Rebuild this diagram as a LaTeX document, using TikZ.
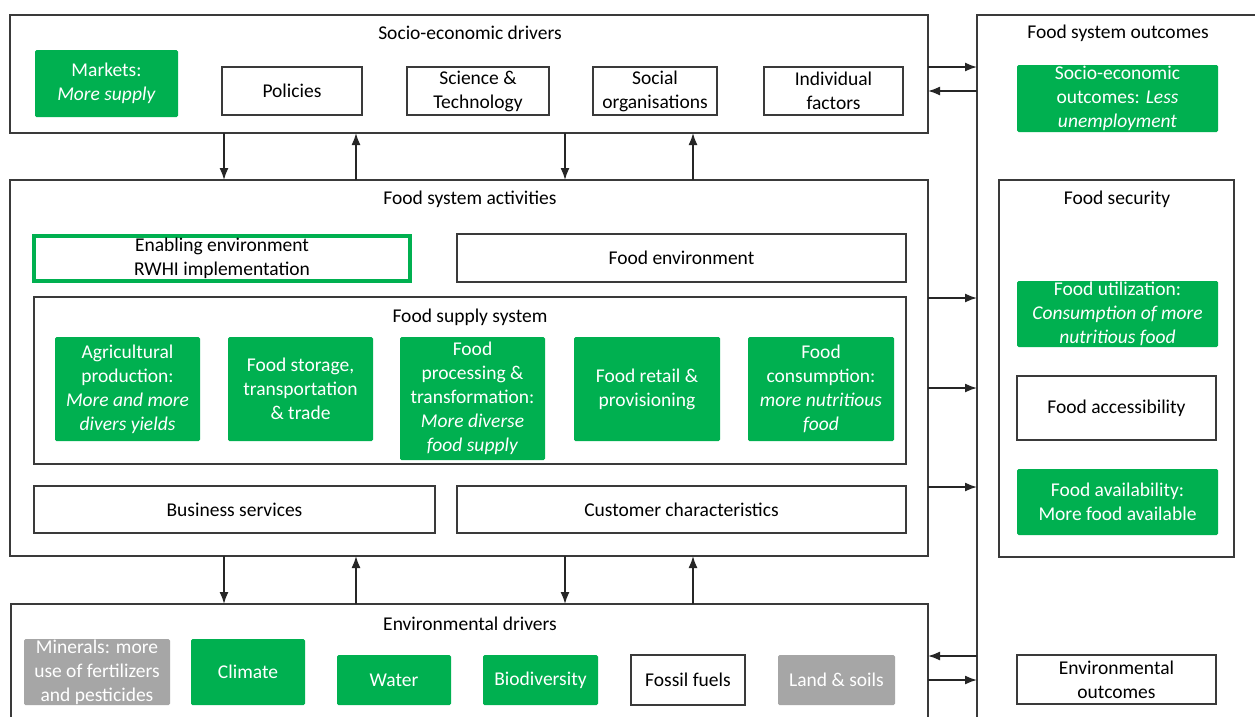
\documentclass[tikz,border=0pt]{standalone}
\usepackage{fontspec}
\setmainfont{Carlito}
\usetikzlibrary{arrows.meta}
\definecolor{fsgreen}{HTML}{00B050}
\definecolor{fsgray}{HTML}{A6A6A6}
\definecolor{fsline}{HTML}{3A3A3A}

\begin{document}
\begin{tikzpicture}[x=1pt,y=-1pt,
  every node/.style={font=\fontsize{19.5}{24}\selectfont, align=center, inner sep=0pt, outer sep=0pt},
  frame/.style={draw=fsline, line width=1.8pt},
  wbox/.style={frame, fill=white, text=black},
  gbox/.style={fill=fsgreen, text=white, rounded corners=1.5pt},
  greybox/.style={fill=fsgray, text=white, rounded corners=1.5pt},
  enabox/.style={draw=fsgreen, line width=3.5pt, fill=white, text=black},
  heading/.style={text=black},
  arr/.style={draw=black!85, line width=1.6pt, -{Latex[length=12pt,width=9pt]}},
]
\useasboundingbox (0,0) rectangle (1255,716);
\fill[white] (0,0) rectangle (1255,716);

% ---------- outer frames ----------
\node[wbox, minimum width=918, minimum height=118] (socio) at (469,74) {};
\node[wbox, minimum width=918, minimum height=376] (act) at (469,368) {};
\node[wbox, minimum width=917, minimum height=166] (env) at (469.5,687) {};
\node[wbox, minimum width=323, minimum height=765] (outc) at (1138.5,397.5) {};

% ---------- socio-economic drivers ----------
\node[heading] (socioT) at (470,33) {Socio-economic drivers};
\node[gbox, minimum width=143, minimum height=67] (markets) at (106.5,83.5) {Markets:\\\textit{More supply}};
\node[wbox, minimum width=140, minimum height=48] (policies) at (292,91) {Policies};
\node[wbox, minimum width=142, minimum height=48] (science) at (478,91) {Science \&\\Technology};
\node[wbox, minimum width=124, minimum height=48] (social) at (655,91) {Social\\organisations};
\node[wbox, minimum width=139, minimum height=48] (indiv) at (833.5,91) {Individual\\factors};

% ---------- food system activities ----------
\node[heading] (actT) at (470,199) {Food system activities};
\node[enabox, minimum width=376, minimum height=45] (enabling) at (222,258.5) {Enabling environment\\RWHI implementation};
\node[wbox, minimum width=449, minimum height=48] (foodenv) at (681.5,258) {Food environment};
\node[wbox, minimum width=872, minimum height=167] (supply) at (470,380.5) {};
\node[heading] (supplyT) at (470,317) {Food supply system};
\node[gbox, minimum width=145, minimum height=104] (agri) at (127.5,389) {Agricultural\\production:\\\textit{More and more}\\\textit{divers yields}};
\node[gbox, minimum width=145, minimum height=104] (storage) at (300.5,389) {Food storage,\\transportation\\\& trade};
\node[gbox, minimum width=145, minimum height=123] (process) at (472.5,398.5) {Food\\processing \&\\transformation:\\\textit{More diverse}\\\textit{food supply}};
\node[gbox, minimum width=146, minimum height=104] (retail) at (647,389) {Food retail \&\\provisioning};
\node[gbox, minimum width=146, minimum height=104] (consum) at (821,389) {Food\\consumption:\\\textit{more nutritious}\\\textit{food}};
\node[wbox, minimum width=401, minimum height=47] (business) at (234.5,509.5) {Business services};
\node[wbox, minimum width=449, minimum height=47] (customer) at (681.5,509.5) {Customer characteristics};

% ---------- environmental drivers ----------
\node[heading] (envT) at (470,624) {Environmental drivers};
\node[greybox, minimum width=146, minimum height=66] (minerals) at (97,672) {Minerals: more\\use of fertilizers\\and pesticides};
\node[gbox, minimum width=114, minimum height=66] (climate) at (248,672) {Climate};
\node[gbox, minimum width=114, minimum height=50] (water) at (394,680) {Water};
\node[gbox, minimum width=115, minimum height=50] (biodiv) at (540.5,680) {Biodiversity};
\node[wbox, minimum width=114, minimum height=50] (fossil) at (688,680) {Fossil fuels};
\node[greybox, minimum width=117, minimum height=50] (land) at (836.5,680) {Land \& soils};

% ---------- food system outcomes ----------
\node[heading] (outcT) at (1118,33) {Food system outcomes};
\node[gbox, minimum width=201, minimum height=67] (seout) at (1117.5,98.5) {Socio-economic\\outcomes: \textit{Less}\\\textit{unemployment}};
\node[wbox, minimum width=235, minimum height=377] (secur) at (1116.5,368.5) {};
\node[heading] (securT) at (1117,199) {Food security};
\node[gbox, minimum width=201, minimum height=66] (util) at (1117.5,314) {Food utilization:\\\textit{Consumption of more}\\\textit{nutritious food}};
\node[wbox, minimum width=199, minimum height=64] (access) at (1116.5,408) {Food accessibility};
\node[gbox, minimum width=201, minimum height=66] (avail) at (1117.5,502) {Food availability:\\More food available};
\node[wbox, minimum width=199, minimum height=49] (envout) at (1116.5,679.5) {Environmental\\outcomes};

% ---------- vertical links ----------
\coordinate (v1) at (224,0);
\coordinate (v2) at (356,0);
\coordinate (v3) at (565,0);
\coordinate (v4) at (693,0);
\draw[arr] (v1 |- socio.south) -- (v1 |- act.north);
\draw[arr] (v2 |- act.north) -- (v2 |- socio.south);
\draw[arr] (v3 |- socio.south) -- (v3 |- act.north);
\draw[arr] (v4 |- act.north) -- (v4 |- socio.south);
\draw[arr] (v1 |- act.south) -- (v1 |- env.north);
\draw[arr] (v2 |- env.north) -- (v2 |- act.south);
\draw[arr] (v3 |- act.south) -- (v3 |- env.north);
\draw[arr] (v4 |- env.north) -- (v4 |- act.south);

% ---------- horizontal links ----------
\coordinate (h1) at (0,67);
\coordinate (h2) at (0,91);
\coordinate (h3) at (0,298);
\coordinate (h4) at (0,388);
\coordinate (h5) at (0,487);
\coordinate (h6) at (0,656);
\coordinate (h7) at (0,680);
\draw[arr] (socio.east |- h1) -- (outc.west |- h1);
\draw[arr] (outc.west |- h2) -- (socio.east |- h2);
\draw[arr] (act.east |- h3) -- (outc.west |- h3);
\draw[arr] (act.east |- h4) -- (outc.west |- h4);
\draw[arr] (act.east |- h5) -- (outc.west |- h5);
\draw[arr] (outc.west |- h6) -- (env.east |- h6);
\draw[arr] (env.east |- h7) -- (outc.west |- h7);
\end{tikzpicture}
\end{document}
